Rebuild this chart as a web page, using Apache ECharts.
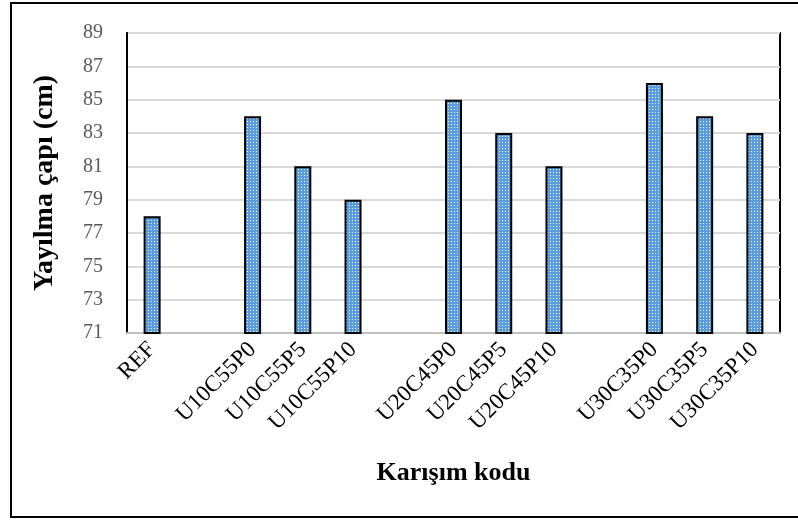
<!DOCTYPE html>
<html>
<head>
<meta charset="utf-8">
<script src="https://cdn.jsdelivr.net/npm/echarts@6/dist/echarts.min.js"></script>
<style>
  html, body { margin: 0; padding: 0; background: #fff; }
  #chart { width: 798px; height: 523px; }
</style>
</head>
<body>
<div id="chart"></div>
<script>
// categories (blank slots separate the groups)
const categories = ['REF', ' ', 'U10C55P0', 'U10C55P5', 'U10C55P10', '  ',
  'U20C45P0', 'U20C45P5', 'U20C45P10', '   ', 'U30C35P0', 'U30C35P5', 'U30C35P10'];
const spreadValues = [78, null, 84, 81, 79, null, 85, 83, 81, null, 86, 84, 83];
const yTicks = [71, 73, 75, 77, 79, 81, 83, 85, 87, 89];

// dotted fill like the excel pattern
function dotPattern() {
  const c = document.createElement('canvas');
  c.width = 3;
  c.height = 3;
  const ctx = c.getContext('2d');
  ctx.fillStyle = '#5a9ddf';
  ctx.fillRect(0, 0, 3, 3);
  ctx.fillStyle = '#ffffff';
  ctx.fillRect(1, 1, 1, 1);
  return c;
}

const chart = echarts.init(document.getElementById('chart'));
const serif = '"Liberation Serif", "Times New Roman", serif';

chart.setOption({
  animation: false,
  graphic: [{
    type: 'rect',
    shape: { x: 11, y: 3, width: 800, height: 514 },
    style: { fill: 'none', stroke: '#000', lineWidth: 2 },
    silent: true
  }],
  grid: {
    left: 127,
    right: 18,
    top: 33,
    bottom: 190,
    show: true,
    borderColor: '#000',
    borderWidth: 2
  },
  xAxis: {
    type: 'category',
    data: categories,
    name: 'Karışım kodu',
    nameLocation: 'middle',
    nameGap: 127,
    nameTextStyle: { fontFamily: serif, fontWeight: 'bold', fontSize: 26, color: '#000' },
    axisLine: { lineStyle: { color: '#bfbfbf', width: 2 } },
    axisTick: { show: false },
    axisLabel: {
      interval: 0,
      rotate: 45,
      fontFamily: serif,
      fontSize: 23,
      color: '#000',
      margin: 13
    }
  },
  yAxis: {
    type: 'value',
    min: 71,
    max: 89,
    interval: 2,
    name: 'Yayılma çapı (cm)',
    nameLocation: 'middle',
    nameGap: 68,
    nameTextStyle: { fontFamily: serif, fontWeight: 'bold', fontSize: 28, color: '#000' },
    axisLine: { show: true, lineStyle: { color: '#000', width: 2 } },
    axisTick: { show: false },
    axisLabel: {
      fontFamily: serif,
      fontSize: 20,
      color: '#595959',
      margin: 24,
      formatter: function (v) { return yTicks.indexOf(v) >= 0 ? String(v) : ''; }
    },
    splitLine: { lineStyle: { color: '#d9d9d9', width: 2 } }
  },
  series: [{
    type: 'bar',
    data: spreadValues,
    barWidth: 17,
    itemStyle: {
      color: { image: dotPattern(), repeat: 'repeat' },
      borderColor: '#000',
      borderWidth: 2
    }
  }]
});
</script>
</body>
</html>
